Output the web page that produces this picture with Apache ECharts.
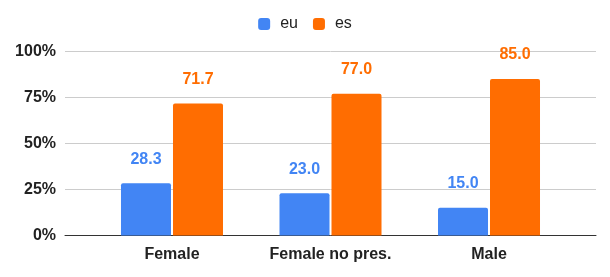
<!DOCTYPE html>
<html>
<head>
<meta charset="utf-8">
<script src="https://cdn.jsdelivr.net/npm/echarts@6/dist/echarts.min.js"></script>
<style>html,body{margin:0;padding:0;background:#fff}#c{width:610px;height:277px}</style>
</head>
<body>
<div id="c"></div>
<script>
var categories = ['Female', 'Female no pres.', 'Male'];
var euValues = [28.3, 23.0, 15.0];
var esValues = [71.7, 77.0, 85.0];
var yTicks = [0, 25, 50, 75, 100];

var FONT = '"Liberation Sans", Arial, sans-serif';
var chart = echarts.init(document.getElementById('c'), null, {renderer: 'canvas'});
function pts(vals) { return vals.map(function (v, i) { return [i, v]; }); }
function lbl(color) {
  return {
    show: true, position: 'top', distance: 16, color: color,
    fontFamily: FONT, fontWeight: 'bold', fontSize: 16,
    formatter: function (p) { return p.value[1].toFixed(1); }
  };
}
chart.setOption({
  animation: false,
  legend: {
    top: 11, left: 'center', itemWidth: 12, itemHeight: 12, itemGap: 15,
    icon: 'roundRect',
    textStyle: {fontFamily: FONT, fontSize: 16, color: '#222', padding: [0, 0, 0, 5]},
    data: ['eu', 'es']
  },
  grid: {left: 65, right: 14, top: 51.3, bottom: 41.5, containLabel: false},
  xAxis: {
    type: 'value', min: -0.675, max: 2.675,
    splitLine: {show: false},
    axisTick: {show: false},
    axisLine: {show: true, lineStyle: {color: '#333', width: 1}},
    axisLabel: {
      customValues: [0, 1, 2], margin: 11,
      fontFamily: FONT, fontWeight: 'bold', fontSize: 16, color: '#222',
      formatter: function (v) { return categories[Math.round(v)]; }
    }
  },
  yAxis: {
    type: 'value', min: yTicks[0], max: yTicks[yTicks.length - 1], interval: 25,
    axisLine: {show: false}, axisTick: {show: false},
    splitLine: {lineStyle: {color: '#ccc', width: 1}},
    axisLabel: {
      margin: 9, fontFamily: FONT, fontSize: 16, color: '#222', fontWeight: 'bold',
      formatter: '{value}%'
    }
  },
  series: [
    {name: 'eu', type: 'bar', data: pts(euValues), barWidth: 50, barGap: '4%',
     itemStyle: {color: '#4285F4', borderRadius: [2, 2, 0, 0]}, label: lbl('#4285F4')},
    {name: 'es', type: 'bar', data: pts(esValues), barWidth: 50, barGap: '4%',
     itemStyle: {color: '#FF6D01', borderRadius: [2, 2, 0, 0]}, label: lbl('#FF6D01')}
  ]
});
</script>
</body>
</html>
